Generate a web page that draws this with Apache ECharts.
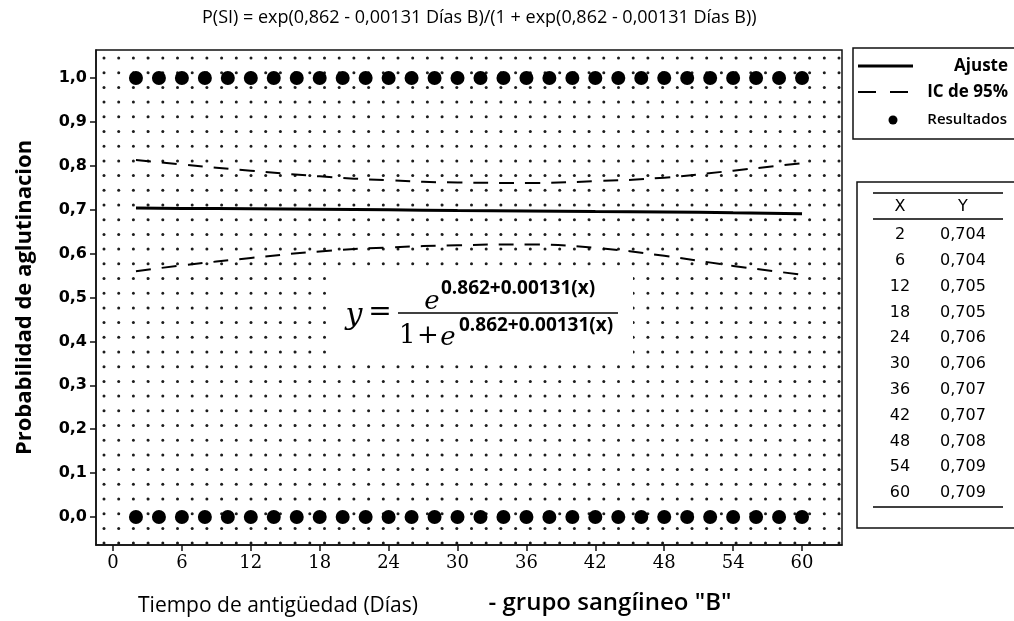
<!DOCTYPE html>
<html>
<head>
<meta charset="utf-8">
<script src="https://cdn.jsdelivr.net/npm/echarts@6/dist/echarts.min.js"></script>
<style>
html,body{margin:0;padding:0;background:#fff;}
#main{width:1014px;height:621px;}
</style>
</head>
<body>
<div id="main"></div>
<script>
// ---- data ----
const titleText = 'P(SI) = exp(0,862 - 0,00131 Días B)/(1 + exp(0,862 - 0,00131 Días B))';
const xTicks = [0, 6, 12, 18, 24, 30, 36, 42, 48, 54, 60];
const yTicks = [0, 0.1, 0.2, 0.3, 0.4, 0.5, 0.6, 0.7, 0.8, 0.9, 1.0];
const resultX = [2, 4, 6, 8, 10, 12, 14, 16, 18, 20, 22, 24, 26, 28, 30, 32, 34, 36, 38, 40, 42, 44, 46, 48, 50, 52, 54, 56, 58, 60];
const resultLevels = [1, 0];
const fitX = [2, 6, 12, 18, 24, 30, 36, 42, 48, 54, 60];
const fitY = [0.704, 0.703, 0.702, 0.701, 0.700, 0.698, 0.697, 0.696, 0.695, 0.693, 0.691];
const icUpper = [0.813, 0.803, 0.789, 0.776, 0.767, 0.762, 0.761, 0.765, 0.773, 0.789, 0.806];
const icLower = [0.560, 0.573, 0.590, 0.605, 0.614, 0.619, 0.621, 0.613, 0.595, 0.572, 0.552];
const tableX = ['2', '6', '12', '18', '24', '30', '36', '42', '48', '54', '60'];
const tableY = ['0,704', '0,704', '0,705', '0,705', '0,706', '0,706', '0,707', '0,707', '0,708', '0,709', '0,709'];
const legendNames = ['Ajuste', 'IC de 95%', 'Resultados'];
const xName1 = 'Tiempo de antigüedad (Días)';
const xName2 = '- grupo sangíineo "B"';
const yName = 'Probabilidad de aglutinacion';
const eqExponent = '0.862+0.00131(x)';

// ---- background dot pattern ----
function makeDotPattern() {
  const P = 147, s = 14.7;
  const c = document.createElement('canvas');
  c.width = P; c.height = P;
  const g = c.getContext('2d');
  g.fillStyle = '#1c1c1c';
  for (let i = 0; i < 10; i++) {
    for (let j = 0; j < 10; j++) {
      const x = 1.1 + i * s, y = 13.9 + j * s;
      for (let dx = -P; dx <= P; dx += P) {
        for (let dy = -P; dy <= P; dy += P) {
          g.beginPath(); g.arc(x + dx, y + dy, 1.5, 0, Math.PI * 2); g.fill();
        }
      }
    }
  }
  return c;
}

const chart = echarts.init(document.getElementById('main'));
const pair = (xs, ys) => xs.map((x, i) => [x, ys[i]]);
const resultData = [];
resultLevels.forEach(l => resultX.forEach(x => resultData.push([x, l])));

const graphics = [];

// equation box
graphics.push({type: 'rect', z: 100, shape: {x: 328, y: 267, width: 305, height: 90}, style: {fill: '#fff'}});
graphics.push({type: 'text', z: 101, style: {x: 354, y: 316, text: 'y', font: 'italic 30px "DejaVu Serif"', fill: '#000', align: 'center', verticalAlign: 'middle'}});
graphics.push({type: 'text', z: 101, style: {x: 380, y: 313, text: '=', font: '28px "DejaVu Serif"', fill: '#000', align: 'center', verticalAlign: 'middle'}});
graphics.push({type: 'line', z: 101, shape: {x1: 398, y1: 313, x2: 618, y2: 313}, style: {stroke: '#000', lineWidth: 1.6}});
graphics.push({type: 'text', z: 101, style: {x: 432, y: 302, text: 'e', font: 'italic 26px "DejaVu Serif"', fill: '#000', align: 'center', verticalAlign: 'middle'}});
graphics.push({type: 'text', z: 101, style: {x: 441, y: 289, text: eqExponent, font: 'bold 19px "Open Sans"', fill: '#000', align: 'left', verticalAlign: 'middle'}});
graphics.push({type: 'text', z: 101, style: {x: 399, y: 336, text: '1', font: '26px "DejaVu Serif"', fill: '#000', align: 'left', verticalAlign: 'middle'}});
graphics.push({type: 'text', z: 101, style: {x: 428, y: 336, text: '+', font: '26px "DejaVu Serif"', fill: '#000', align: 'center', verticalAlign: 'middle'}});
graphics.push({type: 'text', z: 101, style: {x: 448, y: 338, text: 'e', font: 'italic 26px "DejaVu Serif"', fill: '#000', align: 'center', verticalAlign: 'middle'}});
graphics.push({type: 'text', z: 101, style: {x: 459, y: 326, text: eqExponent, font: 'bold 19px "Open Sans"', fill: '#000', align: 'left', verticalAlign: 'middle'}});

// legend
graphics.push({type: 'rect', shape: {x: 853, y: 48, width: 200, height: 91}, style: {fill: '#fff', stroke: '#111', lineWidth: 1.5}});
graphics.push({type: 'line', shape: {x1: 858, y1: 66, x2: 913, y2: 66}, style: {stroke: '#000', lineWidth: 3}});
graphics.push({type: 'line', shape: {x1: 858, y1: 92, x2: 876, y2: 92}, style: {stroke: '#000', lineWidth: 2}});
graphics.push({type: 'line', shape: {x1: 890, y1: 92, x2: 908, y2: 92}, style: {stroke: '#000', lineWidth: 2}});
graphics.push({type: 'circle', shape: {cx: 893, cy: 120, r: 4.5}, style: {fill: '#000'}});
graphics.push({type: 'text', style: {x: 1008, y: 66, text: legendNames[0], font: 'bold 17px "Open Sans"', fill: '#000', align: 'right', verticalAlign: 'middle'}});
graphics.push({type: 'text', style: {x: 1008, y: 92, text: legendNames[1], font: 'bold 17px "Open Sans"', fill: '#000', align: 'right', verticalAlign: 'middle'}});
graphics.push({type: 'text', style: {x: 1007, y: 120, text: legendNames[2], font: '600 15px "Open Sans"', fill: '#000', align: 'right', verticalAlign: 'middle'}});

// table
graphics.push({type: 'rect', shape: {x: 857, y: 182, width: 200, height: 346}, style: {fill: '#fff', stroke: '#111', lineWidth: 1.5}});
graphics.push({type: 'line', shape: {x1: 873, y1: 193, x2: 1003, y2: 193}, style: {stroke: '#000', lineWidth: 1.5}});
graphics.push({type: 'line', shape: {x1: 873, y1: 219, x2: 1003, y2: 219}, style: {stroke: '#000', lineWidth: 1.5}});
graphics.push({type: 'line', shape: {x1: 873, y1: 507, x2: 1003, y2: 507}, style: {stroke: '#000', lineWidth: 1.5}});
graphics.push({type: 'text', style: {x: 900, y: 207, text: 'X', font: '16px "DejaVu Sans"', fill: '#000', align: 'center', verticalAlign: 'middle'}});
graphics.push({type: 'text', style: {x: 963, y: 207, text: 'Y', font: '16px "DejaVu Sans"', fill: '#000', align: 'center', verticalAlign: 'middle'}});
tableX.forEach((t, i) => {
  const y = 235 + i * 25.8;
  graphics.push({type: 'text', style: {x: 900, y: y, text: t, font: '16px "DejaVu Sans"', fill: '#000', align: 'center', verticalAlign: 'middle'}});
  graphics.push({type: 'text', style: {x: 963, y: y, text: tableY[i], font: '16px "DejaVu Sans"', fill: '#000', align: 'center', verticalAlign: 'middle'}});
});

// x axis names
graphics.push({type: 'text', style: {x: 278, y: 606, text: xName1, font: '21px "Open Sans"', fill: '#000', align: 'center', verticalAlign: 'middle'}});
graphics.push({type: 'text', style: {x: 610, y: 603, text: xName2, font: '600 24px "Open Sans"', fill: '#000', align: 'center', verticalAlign: 'middle'}});

const option = {
  animation: false,
  backgroundColor: '#ffffff',
  title: {
    text: titleText,
    left: 197,
    top: 4,
    textStyle: {fontFamily: 'Open Sans', fontSize: 18, fontWeight: 'normal', color: '#000'}
  },
  grid: {
    left: 96, right: 172, top: 50, bottom: 76,
    show: true,
    borderColor: '#111', borderWidth: 1.5,
    backgroundColor: {image: makeDotPattern(), repeat: 'repeat'}
  },
  xAxis: {
    type: 'value', min: -1.48, max: 63.48,
    axisLine: {show: true, onZero: false, lineStyle: {color: '#111', width: 1.5}},
    axisTick: {show: true, customValues: xTicks, length: 6, lineStyle: {color: '#111', width: 1.5}},
    axisLabel: {customValues: xTicks, margin: 9, fontFamily: 'DejaVu Serif', fontSize: 18, color: '#000'},
    splitLine: {show: false}
  },
  yAxis: {
    type: 'value', min: -0.0638, max: 1.0638,
    name: yName, nameLocation: 'middle', nameGap: 60, nameRotate: 90,
    nameTextStyle: {fontFamily: 'Open Sans', fontSize: 22, fontWeight: 'bold', color: '#000'},
    axisLine: {show: true, onZero: false, lineStyle: {color: '#111', width: 1.5}},
    axisTick: {show: true, customValues: yTicks, length: 6, lineStyle: {color: '#111', width: 1.5}},
    axisLabel: {customValues: yTicks, margin: 9, fontFamily: 'DejaVu Sans', fontWeight: 'bold', fontSize: 16, color: '#000',
      formatter: v => v.toFixed(1).replace('.', ',')},
    splitLine: {show: false}
  },
  series: [
    {name: legendNames[2], type: 'scatter', data: resultData, symbol: 'circle', symbolSize: 14,
      itemStyle: {color: '#000', opacity: 1}, z: 3},
    {name: legendNames[0], type: 'line', data: pair(fitX, fitY), smooth: true, symbol: 'none',
      lineStyle: {color: '#000', width: 3}, z: 4},
    {name: legendNames[1], type: 'line', data: pair(fitX, icUpper), smooth: true, symbol: 'none',
      lineStyle: {color: '#000', width: 2, type: [15, 11]}, z: 4},
    {name: legendNames[1] + ' ', type: 'line', data: pair(fitX, icLower), smooth: true, symbol: 'none',
      lineStyle: {color: '#000', width: 2, type: [15, 11]}, z: 4}
  ],
  graphic: graphics
};
chart.setOption(option);
</script>
</body>
</html>
